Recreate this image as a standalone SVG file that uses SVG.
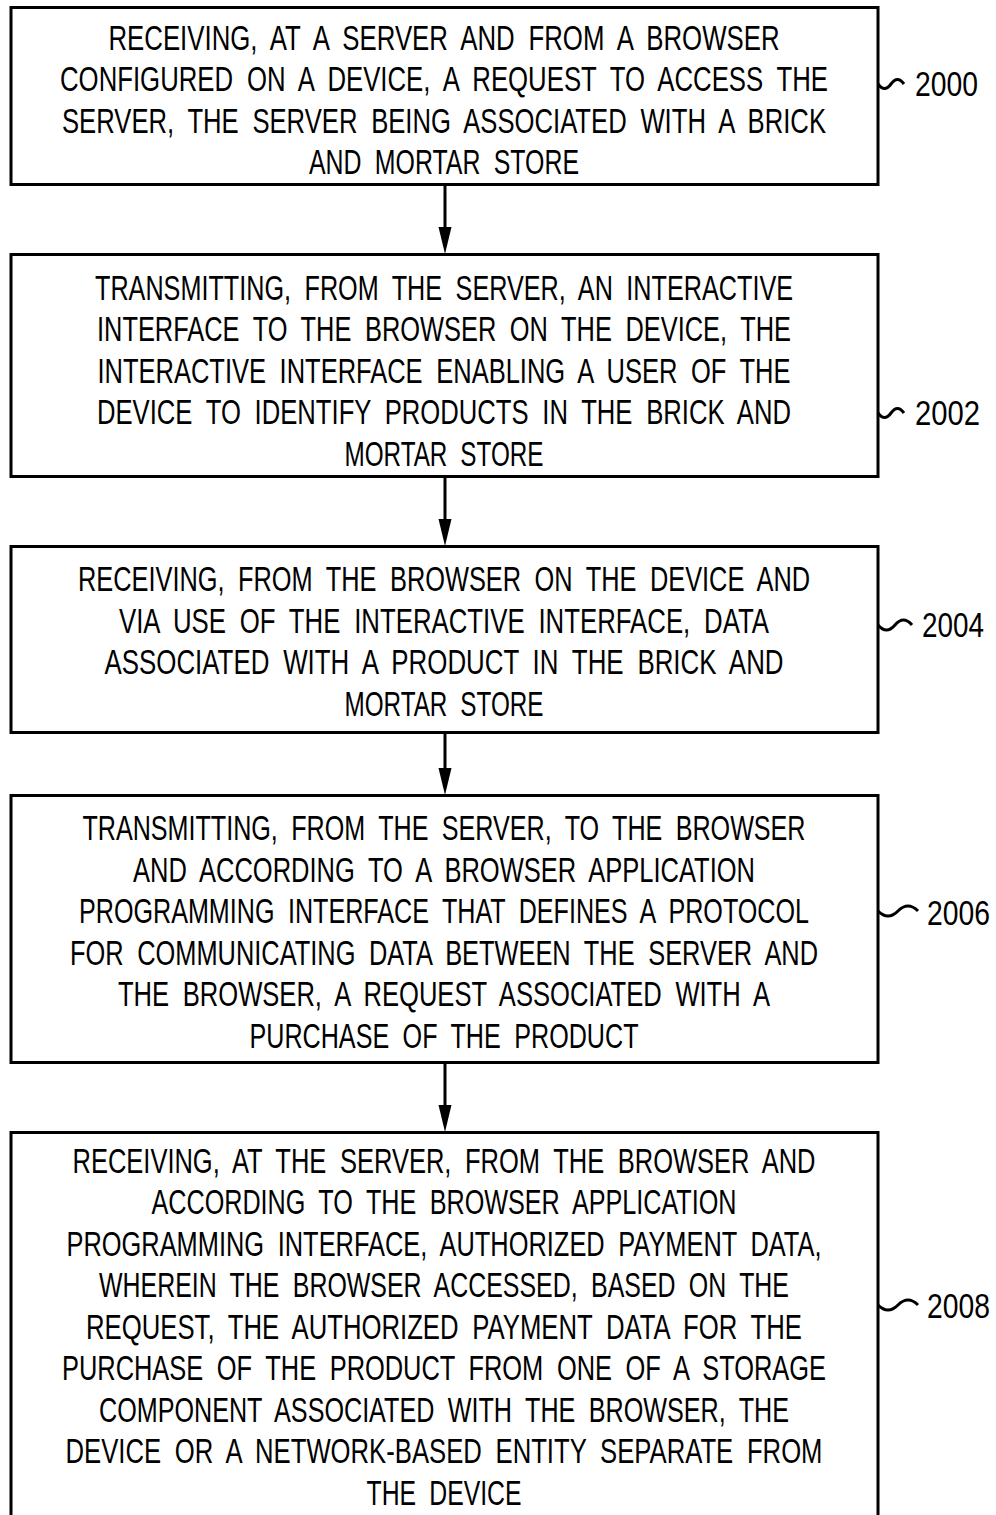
<svg xmlns="http://www.w3.org/2000/svg" width="996" height="1515" viewBox="0 0 996 1515">
<style>
.box{fill:#fff;stroke:#000;stroke-width:3}
.t{font-family:"Liberation Sans",Arial,sans-serif;font-size:35px;fill:#000;text-anchor:middle;word-spacing:9px}
.lbl{font-family:"Liberation Sans",Arial,sans-serif;font-size:35px;fill:#000}
.tl{fill:none;stroke:#000;stroke-width:3}
.con{stroke:#000;stroke-width:3;fill:none}
</style>
<rect width="996" height="1515" fill="#fff"/>
<g id="connectors">
<line class="con" x1="445" y1="186" x2="445" y2="228"/><path d="M438.5,227 L451.5,227 L445,254 Z"/>
<line class="con" x1="445" y1="478" x2="445" y2="520"/><path d="M438.5,519 L451.5,519 L445,546 Z"/>
<line class="con" x1="445" y1="734" x2="445" y2="769"/><path d="M438.5,768 L451.5,768 L445,795 Z"/>
<line class="con" x1="445" y1="1064" x2="445" y2="1106"/><path d="M438.5,1105 L451.5,1105 L445,1132 Z"/>
</g>
<g id="n2000">
<rect class="box" x="11" y="7.5" width="867" height="177"/>
<text class="t" x="444" y="50" textLength="671" lengthAdjust="spacingAndGlyphs">RECEIVING, AT A SERVER AND FROM A BROWSER</text>
<text class="t" x="444" y="91" textLength="768" lengthAdjust="spacingAndGlyphs">CONFIGURED ON A DEVICE, A REQUEST TO ACCESS THE</text>
<text class="t" x="444" y="133" textLength="764" lengthAdjust="spacingAndGlyphs">SERVER, THE SERVER BEING ASSOCIATED WITH A BRICK</text>
<text class="t" x="444" y="174" textLength="270" lengthAdjust="spacingAndGlyphs">AND MORTAR STORE</text>
<path class="tl" d="M878,84 q6.5,9 13,0 t13,0"/>
<text class="lbl" x="915" y="96" textLength="63" lengthAdjust="spacingAndGlyphs">2000</text>
</g>
<g id="n2002">
<rect class="box" x="11" y="254.5" width="867" height="222"/>
<text class="t" x="444" y="300" textLength="698" lengthAdjust="spacingAndGlyphs">TRANSMITTING, FROM THE SERVER, AN INTERACTIVE</text>
<text class="t" x="444" y="341" textLength="694" lengthAdjust="spacingAndGlyphs">INTERFACE TO THE BROWSER ON THE DEVICE, THE</text>
<text class="t" x="444" y="383" textLength="693" lengthAdjust="spacingAndGlyphs">INTERACTIVE INTERFACE ENABLING A USER OF THE</text>
<text class="t" x="444" y="424" textLength="694" lengthAdjust="spacingAndGlyphs">DEVICE TO IDENTIFY PRODUCTS IN THE BRICK AND</text>
<text class="t" x="444" y="466" textLength="199" lengthAdjust="spacingAndGlyphs">MORTAR STORE</text>
<path class="tl" d="M878,413 q6.5,9 13,0 t13,0"/>
<text class="lbl" x="915" y="425" textLength="65" lengthAdjust="spacingAndGlyphs">2002</text>
</g>
<g id="n2004">
<rect class="box" x="11" y="546.5" width="867" height="186"/>
<text class="t" x="444" y="591" textLength="732" lengthAdjust="spacingAndGlyphs">RECEIVING, FROM THE BROWSER ON THE DEVICE AND</text>
<text class="t" x="444" y="633" textLength="650" lengthAdjust="spacingAndGlyphs">VIA USE OF THE INTERACTIVE INTERFACE, DATA</text>
<text class="t" x="444" y="674" textLength="679" lengthAdjust="spacingAndGlyphs">ASSOCIATED WITH A PRODUCT IN THE BRICK AND</text>
<text class="t" x="444" y="716" textLength="199" lengthAdjust="spacingAndGlyphs">MORTAR STORE</text>
<path class="tl" d="M878,625 q8.5,10 17,0 t17,0"/>
<text class="lbl" x="922" y="637" textLength="62" lengthAdjust="spacingAndGlyphs">2004</text>
</g>
<g id="n2006">
<rect class="box" x="11" y="795.5" width="867" height="267"/>
<text class="t" x="444" y="840" textLength="723" lengthAdjust="spacingAndGlyphs">TRANSMITTING, FROM THE SERVER, TO THE BROWSER</text>
<text class="t" x="444" y="882" textLength="622" lengthAdjust="spacingAndGlyphs">AND ACCORDING TO A BROWSER APPLICATION</text>
<text class="t" x="444" y="923" textLength="730" lengthAdjust="spacingAndGlyphs">PROGRAMMING INTERFACE THAT DEFINES A PROTOCOL</text>
<text class="t" x="444" y="965" textLength="748" lengthAdjust="spacingAndGlyphs">FOR COMMUNICATING DATA BETWEEN THE SERVER AND</text>
<text class="t" x="444" y="1006" textLength="652" lengthAdjust="spacingAndGlyphs">THE BROWSER, A REQUEST ASSOCIATED WITH A</text>
<text class="t" x="444" y="1048" textLength="389" lengthAdjust="spacingAndGlyphs">PURCHASE OF THE PRODUCT</text>
<path class="tl" d="M878,911 q10,10 20,0 t20,0"/>
<text class="lbl" x="927" y="925" textLength="63" lengthAdjust="spacingAndGlyphs">2006</text>
</g>
<g id="n2008">
<path class="box" d="M11,1530 V1132.5 H878 V1530"/>
<text class="t" x="444" y="1173" textLength="743" lengthAdjust="spacingAndGlyphs">RECEIVING, AT THE SERVER, FROM THE BROWSER AND</text>
<text class="t" x="444" y="1214" textLength="585" lengthAdjust="spacingAndGlyphs">ACCORDING TO THE BROWSER APPLICATION</text>
<text class="t" x="444" y="1256" textLength="755" lengthAdjust="spacingAndGlyphs">PROGRAMMING INTERFACE, AUTHORIZED PAYMENT DATA,</text>
<text class="t" x="444" y="1297" textLength="690" lengthAdjust="spacingAndGlyphs">WHEREIN THE BROWSER ACCESSED, BASED ON THE</text>
<text class="t" x="444" y="1339" textLength="716" lengthAdjust="spacingAndGlyphs">REQUEST, THE AUTHORIZED PAYMENT DATA FOR THE</text>
<text class="t" x="444" y="1380" textLength="764" lengthAdjust="spacingAndGlyphs">PURCHASE OF THE PRODUCT FROM ONE OF A STORAGE</text>
<text class="t" x="444" y="1422" textLength="690" lengthAdjust="spacingAndGlyphs">COMPONENT ASSOCIATED WITH THE BROWSER, THE</text>
<text class="t" x="444" y="1463" textLength="757" lengthAdjust="spacingAndGlyphs">DEVICE OR A NETWORK-BASED ENTITY SEPARATE FROM</text>
<text class="t" x="444" y="1505" textLength="155" lengthAdjust="spacingAndGlyphs">THE DEVICE</text>
<path class="tl" d="M878,1305 q10,10 20,0 t20,0"/>
<text class="lbl" x="927" y="1318" textLength="63" lengthAdjust="spacingAndGlyphs">2008</text>
</g>
</svg>
